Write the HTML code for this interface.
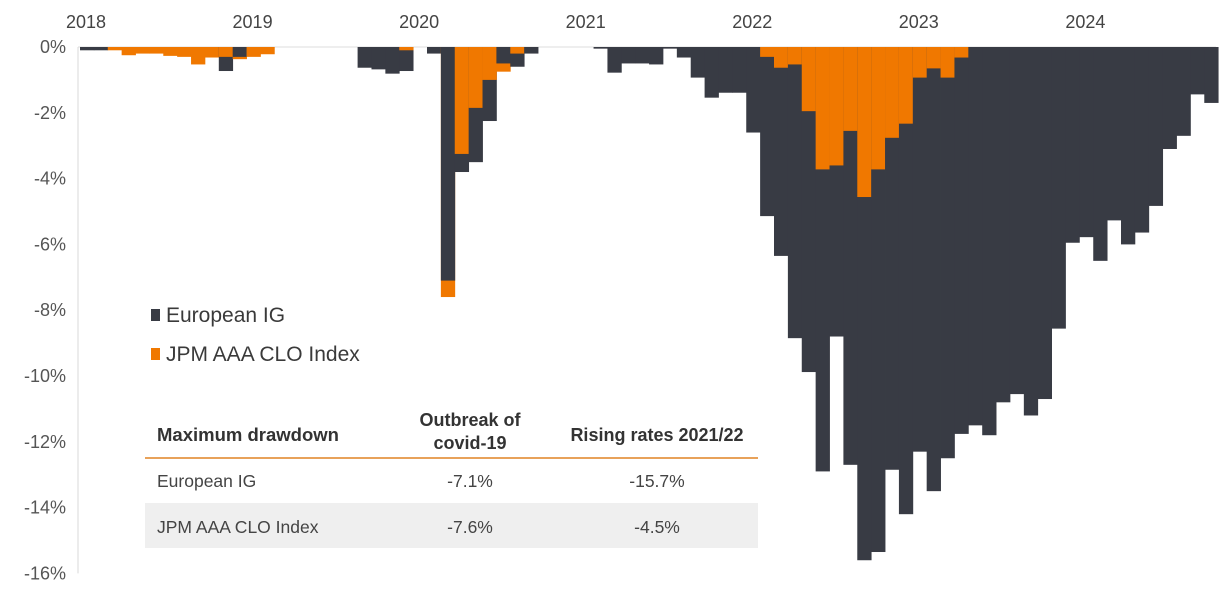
<!DOCTYPE html>
<html><head><meta charset="utf-8"><style>
html,body{margin:0;padding:0;background:#fff;}
svg{display:block;font-family:"Liberation Sans Narrow","Liberation Sans",sans-serif;}
</style></head><body>
<svg id="chart" width="1230" height="601" viewBox="0 0 1230 601">
<g id="grid"></g><g id="bars"></g><g id="axes"></g>
<g>
<rect x="151" y="309" width="9" height="12" fill="#383b44"/>
<text x="166" y="322" font-size="21" fill="#3a3a3a">European IG</text>
<rect x="151" y="348" width="9" height="12" fill="#f07800"/>
<text x="166" y="361" font-size="21" fill="#3a3a3a">JPM AAA CLO Index</text>
</g>
<g font-size="17.5" fill="#444">
<rect x="145" y="503" width="613" height="45" fill="#efefef"/>
<line x1="145" y1="458" x2="758" y2="458" stroke="#e8a25a" stroke-width="2"/>
<text x="157" y="441" font-weight="bold" font-size="18.5" fill="#333">Maximum drawdown</text>
<text x="470" y="426" text-anchor="middle" font-weight="bold" font-size="18" fill="#333">Outbreak of</text>
<text x="470" y="449" text-anchor="middle" font-weight="bold" font-size="18" fill="#333">covid-19</text>
<text x="657" y="441" text-anchor="middle" font-weight="bold" font-size="18" fill="#333">Rising rates 2021/22</text>
<text x="157" y="487">European IG</text>
<text x="470" y="487" text-anchor="middle">-7.1%</text>
<text x="657" y="487" text-anchor="middle">-15.7%</text>
<text x="157" y="533">JPM AAA CLO Index</text>
<text x="470" y="533" text-anchor="middle">-7.6%</text>
<text x="657" y="533" text-anchor="middle">-4.5%</text>
</g>
</svg>
<script>
const yearLabels = ["2018","2019","2020","2021","2022","2023","2024"];
const yTicks = [0,-2,-4,-6,-8,-10,-12,-14,-16];
const europeanIG = [-0.1,-0.1,0,0,0,0,0,0,0,0,-0.73,-0.3,0,0,0,0,0,0,0,0,
 -0.63,-0.68,-0.81,-0.73,0,-0.2,-7.1,-3.8,-3.5,-2.25,-0.5,-0.6,-0.2,0,0,0,0,-0.05,-0.78,-0.5,
 -0.5,-0.53,-0.05,-0.32,-0.93,-1.54,-1.39,-1.39,-2.6,-5.14,-6.35,-8.85,-9.88,-12.9,-8.8,-12.7,-15.6,-15.35,-12.85,-14.2,
 -12.3,-13.5,-12.5,-11.76,-11.5,-11.8,-10.8,-10.55,-11.2,-10.7,-8.56,-5.95,-5.78,-6.5,-5.27,-6.0,-5.64,-4.83,-3.1,-2.7,
 -1.44,-1.7];
const cloIndex = [0,0,-0.1,-0.25,-0.2,-0.2,-0.27,-0.3,-0.53,-0.32,-0.3,-0.37,-0.3,-0.22,0,0,0,0,0,0,
 0,0,0,-0.1,0,0,-7.6,-3.25,-1.85,-1.0,-0.75,-0.2,0,0,0,0,0,0,0,0,
 0,0,0,0,0,0,0,0,0,-0.3,-0.63,-0.53,-1.95,-3.72,-3.6,-2.55,-4.56,-3.72,-2.76,-2.33,
 -0.93,-0.65,-0.93,-0.32,0,0,0,0,0,0,0,0,0,0,0,0,0,0,0,0,
 0,0];
const NS="http://www.w3.org/2000/svg";
const X0=80, BW=13.88, Y0=47, YPER=32.9;
function xScale(i){return X0+i*BW;}
function yScale(v){return Y0-v*YPER;}
const gBars=document.getElementById('bars'), gAx=document.getElementById('axes'), gGrid=document.getElementById('grid');
function mk(tag,attrs,parent){const e=document.createElementNS(NS,tag);for(const k in attrs)e.setAttribute(k,attrs[k]);parent.appendChild(e);return e;}
const n=Math.max(europeanIG.length,cloIndex.length);
for(let i=0;i<n;i++){
  const s=[{v:europeanIG[i]||0,c:"#383b44",nm:"bar-european-ig"},{v:cloIndex[i]||0,c:"#f07800",nm:"bar-clo"}];
  s.sort((a,b)=>a.v-b.v);
  s.forEach(d=>{
    if(d.v>=0)return;
    const r=mk('rect',{x:xScale(i).toFixed(2),y:yScale(0),width:(BW+0.4).toFixed(2),height:(yScale(d.v)-yScale(0)).toFixed(2),fill:d.c},gBars);
    
    
  });
}
const ax=mk('line',{x1:78,y1:Y0,x2:78,y2:yScale(-16),stroke:"#d9d9d9","stroke-width":1},gAx);


const zl=mk('line',{x1:78,y1:Y0,x2:1216,y2:Y0,stroke:"#dcdcdc","stroke-width":1},gGrid);


yTicks.forEach(t=>{
  const e=mk('text',{x:66,y:yScale(t)+6,"text-anchor":"end","font-size":"18",fill:"#555"},gAx);
  e.textContent=t+"%";
  
  
});
yearLabels.forEach((l,k)=>{
  const e=mk('text',{x:xScale(k*12)+6,y:28,"text-anchor":"middle","font-size":"18",fill:"#444"},gAx);
  e.textContent=l;
  
  
});
</script>
</body></html>
